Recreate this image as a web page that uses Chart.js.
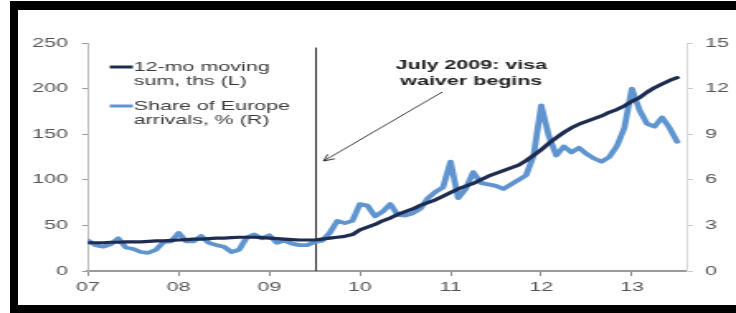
<!DOCTYPE html>
<html>
<head>
<meta charset="utf-8">
<script src="https://cdn.jsdelivr.net/npm/chart.js@4.4.1/dist/chart.umd.min.js"></script>
<style>
  html, body { margin: 0; padding: 0; background: #fff; overflow: hidden; width: 736px; height: 313px; }
  /* the source picture is stretched sideways, so the chart is drawn narrow and widened */
  #wrap { position: absolute; left: 0; top: 0; width: 446px; height: 313px; transform: scaleX(1.6502); transform-origin: 0 0; }
  #frame { position: absolute; left: 10px; top: 1px; width: 740px; height: 295px;
           border-top: 9px solid #000; border-left: 8px solid #000; border-bottom: 8px solid #000; pointer-events: none; }
</style>
</head>
<body>
<div id="wrap"><canvas id="chart"></canvas></div>
<div id="frame"></div>
<script>
// monthly, Jan 2007 .. Jul 2013 (x = months since Jan 2007)
const movingSum = [
  31, 31, 31, 31.5, 31.5, 32, 32, 32, 32.5, 33, 33, 33.5,
  34, 34.5, 35, 35, 35.5, 36, 36, 36.5, 37, 37, 37, 36.5,
  36, 35.5, 35, 34.5, 34, 34, 34, 35, 36, 37, 38, 40,
  45, 48, 51, 55, 58, 62, 65, 68, 72, 75, 78, 82,
  86, 90, 93, 96, 100, 104, 107, 110, 113, 116, 121, 127,
  133, 140, 146, 152, 157, 161, 164, 167, 170, 174, 177, 181,
  186, 190, 196, 201, 205, 209, 212
];
const europeShare = [
  2.0, 1.7, 1.6, 1.75, 2.15, 1.55, 1.45, 1.25, 1.2, 1.4, 1.9, 1.95,
  2.5, 1.95, 1.95, 2.3, 1.85, 1.7, 1.6, 1.25, 1.4, 2.2, 2.4, 2.15,
  2.35, 1.85, 2.0, 1.8, 1.7, 1.7, 1.9, 2.0, 2.5, 3.3, 3.15, 3.3,
  4.4, 4.3, 3.6, 3.9, 4.4, 3.7, 3.65, 3.8, 4.1, 4.8, 5.2, 5.5,
  7.2, 4.8, 5.4, 6.5, 5.8, 5.7, 5.6, 5.4, 5.7, 6.0, 6.3, 7.6,
  10.9, 8.9, 7.6, 8.2, 7.8, 8.1, 7.7, 7.4, 7.2, 7.5, 8.2, 9.4,
  12.0, 10.6, 9.7, 9.5, 10.1, 9.4, 8.5
];
const yearTicks = [0, 12, 24, 36, 48, 60, 72];
const yearLabels = ['07', '08', '09', '10', '11', '12', '13'];
const leftTicks = [0, 50, 100, 150, 200, 250];
const rightTicks = [0, 3, 6, 9, 12, 15];
const seriesNames = [['12-mo moving', 'sum, ths (L)'], ['Share of Europe', 'arrivals, % (R)']];
const noteLines = ['July 2009: visa', 'waiver begins'];
const waiverMonth = 30;

const font = { family: 'Liberation Sans', size: 13 };
const darkBlue = '#1d2c50';
const lightBlue = '#5f94cf';

const toPoints = arr => arr.map((v, i) => ({ x: i, y: v }));

// vertical marker, arrow note and in-plot legend
const notes = {
  id: 'notes',
  beforeDatasetsDraw(chart) {
    const { ctx, scales: { x, y } } = chart;
    const px = Math.round(x.getPixelForValue(waiverMonth)) + 0.5;
    ctx.save();
    ctx.strokeStyle = '#333';
    ctx.lineWidth = 1;
    ctx.beginPath();
    ctx.moveTo(px, y.getPixelForValue(0));
    ctx.lineTo(px, y.getPixelForValue(245));
    ctx.stroke();
    ctx.restore();
  },
  afterDatasetsDraw(chart) {
    const { ctx, scales: { x, y } } = chart;
    ctx.save();
    // note text
    ctx.fillStyle = '#222';
    ctx.font = 'bold 13px "Liberation Sans"';
    ctx.textAlign = 'center';
    ctx.textBaseline = 'middle';
    const cx = x.getPixelForValue(50.75);
    ctx.fillText(noteLines[0], cx, 65);
    ctx.fillText(noteLines[1], cx, 81);

    // arrow
    const x0 = x.getPixelForValue(46.9), y0 = 92;
    const x1 = x.getPixelForValue(31.2), y1 = 161;
    ctx.strokeStyle = '#222';
    ctx.lineWidth = 0.9;
    ctx.beginPath();
    ctx.moveTo(x0, y0);
    ctx.lineTo(x1, y1);
    ctx.stroke();
    const ang = Math.atan2(y1 - y0, x1 - x0);
    ctx.beginPath();
    ctx.moveTo(x1 - 7 * Math.cos(ang - 0.45), y1 - 7 * Math.sin(ang - 0.45));
    ctx.lineTo(x1, y1);
    ctx.lineTo(x1 - 7 * Math.cos(ang + 0.45), y1 - 7 * Math.sin(ang + 0.45));
    ctx.stroke();

    // legend
    ctx.font = '13px "Liberation Sans"';
    ctx.textAlign = 'left';
    ctx.fillStyle = '#3a3a3a';
    const rows = [67, 106];
    [darkBlue, lightBlue].forEach((c, i) => {
      ctx.strokeStyle = c;
      ctx.lineWidth = 3;
      ctx.beginPath();
      ctx.moveTo(66.5, rows[i]);
      ctx.lineTo(80.5, rows[i]);
      ctx.stroke();
      ctx.fillText(seriesNames[i][0], 81, rows[i]);
      ctx.fillText(seriesNames[i][1], 81, rows[i] + 14);
    });
    ctx.restore();
  }
};

new Chart(document.getElementById('chart'), {
  type: 'line',
  data: {
    datasets: [
      {
        label: seriesNames[0].join(' '),
        data: toPoints(movingSum),
        yAxisID: 'y',
        borderColor: darkBlue,
        borderWidth: 3.2,
        borderJoinStyle: 'round',
        borderCapStyle: 'round',
        pointRadius: 0,
        tension: 0
      },
      {
        label: seriesNames[1].join(' '),
        data: toPoints(europeShare),
        yAxisID: 'y1',
        borderColor: lightBlue,
        borderWidth: 3.8,
        borderJoinStyle: 'round',
        borderCapStyle: 'round',
        pointRadius: 0,
        tension: 0
      }
    ]
  },
  options: {
    responsive: true,
    maintainAspectRatio: false,
    animation: false,
    layout: { padding: { top: 43, left: 0, right: 0, bottom: 0 } },
    plugins: { legend: { display: false }, tooltip: { enabled: false } },
    scales: {
      x: {
        type: 'linear',
        min: 0,
        max: 79.3,
        afterBuildTicks: s => { s.ticks = yearTicks.map(v => ({ value: v })); },
        afterFit: s => { s.height = 42; },
        grid: { drawOnChartArea: false, tickLength: 5, color: '#8a8a8a' },
        border: { color: '#9a9a9a', width: 2 },
        ticks: { padding: 4, color: '#555', font, maxRotation: 0, autoSkip: false,
                 callback: (v, i) => yearLabels[i] }
      },
      y: {
        position: 'left',
        min: 0,
        max: 250,
        afterBuildTicks: s => { s.ticks = leftTicks.map(v => ({ value: v })); },
        afterFit: s => { s.width = 53.3; },
        grid: { drawOnChartArea: false, tickLength: 3.6, color: '#9a9a9a' },
        border: { color: '#b8b8b8', width: 1 },
        ticks: { padding: 8.5, color: '#555', font }
      },
      y1: {
        position: 'right',
        min: 0,
        max: 15,
        afterBuildTicks: s => { s.ticks = rightTicks.map(v => ({ value: v })); },
        afterFit: s => { s.width = 29.7; },
        grid: { drawOnChartArea: false, tickLength: 3.6, color: '#c8c8c8' },
        border: { color: '#d8d8d8', width: 1 },
        ticks: { padding: 7.3, color: '#555', font }
      }
    }
  },
  plugins: [notes]
});
</script>
</body>
</html>
